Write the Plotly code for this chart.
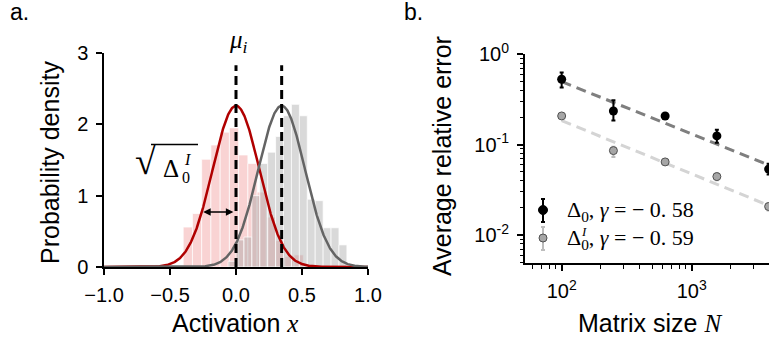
import numpy as np
import plotly.graph_objects as go

# ---------------- Panel a data ----------------
pink_edges = [-0.68, -0.61, -0.54, -0.47, -0.40, -0.33, -0.26, -0.19, -0.12,
              -0.05, 0.02, 0.09, 0.16, 0.23, 0.30, 0.37, 0.44, 0.51]
pink_heights = [0.02, 0.03, 0.02, 0.02, 0.56, 0.75, 1.51, 1.71, 1.89,
                1.95, 1.57, 1.45, 1.05, 0.70, 0.37, 0.15, 0.17]
gray_edges = [-0.06, 0.0, 0.06, 0.12, 0.18, 0.24, 0.30, 0.36, 0.42, 0.48,
              0.54, 0.60, 0.66, 0.72, 0.78, 0.84]
gray_heights = [0.08, 0.38, 0.42, 1.00, 1.45, 1.61, 1.83, 2.12, 2.28, 2.12,
                0.95, 0.93, 0.55, 0.55, 0.31]
mu_inh = 0.0          # red Gaussian mean
mu_full = 0.346       # gray Gaussian mean
sigma = 0.1765        # common std
arrow_y = 0.77
arrow_left = -0.26
dash_top = 2.83

x_ticks_a = [-1.0, -0.5, 0.0, 0.5, 1.0]
x_ticktext_a = ["\u22121.0", "\u22120.5", "0.0", "0.5", "1.0"]
y_ticks_a = [0, 1, 2, 3]

# ---------------- Panel b data ----------------
N = [100, 250, 625, 1562, 3906]
d0 = [0.53, 0.236, 0.208, 0.125, 0.0537]
d0_up = [0.10, 0.074, 0.015, 0.021, 0.008]
d0_dn = [0.10, 0.051, 0.013, 0.020, 0.007]
d0I = [0.208, 0.086, 0.0645, 0.0444, 0.0207]
d0I_up = [0.008, 0.009, 0.004, 0.004, 0.002]
d0I_dn = [0.008, 0.013, 0.004, 0.004, 0.002]
gamma_d0, amp_d0 = -0.58, 7.22
gamma_d0I, amp_d0I = -0.59, 2.80
N_fit = [100, 10000]

x_ticks_b = [100, 1000, 10000]
x_ticktext_b = ["10<sup>2</sup>", "10<sup>3</sup>", "10<sup>4</sup>"]
y_ticks_b = [0.01, 0.1, 1]
y_ticktext_b = ["10<sup>-2</sup>", "10<sup>-1</sup>", "10<sup>0</sup>"]

W, H = 769, 343
def px(x):
    return x / W
def py(y):
    return 1 - y / H

SANS = "Liberation Sans, Arial, sans-serif"
SERIF = "Liberation Serif, Times New Roman, serif"
MATH = "<span style='font-family:Liberation Serif'><i>{}</i></span>"

fig = go.Figure()

# Histograms
pe = np.array(pink_edges); ge = np.array(gray_edges)
fig.add_trace(go.Bar(x=(pe[:-1] + pe[1:]) / 2, y=pink_heights, width=np.diff(pe),
                     marker=dict(color="rgba(235,110,110,0.30)",
                                 line=dict(color="rgba(255,255,255,0.7)", width=1)),
                     xaxis="x", yaxis="y", showlegend=False))
fig.add_trace(go.Bar(x=(ge[:-1] + ge[1:]) / 2, y=gray_heights, width=np.diff(ge),
                     marker=dict(color="rgba(160,160,160,0.40)",
                                 line=dict(color="rgba(255,255,255,0.7)", width=1)),
                     xaxis="x", yaxis="y", showlegend=False))

xs = np.linspace(-1, 1, 601)
def gauss(x, m, s):
    return np.exp(-0.5 * ((x - m) / s) ** 2) / (s * np.sqrt(2 * np.pi))
fig.add_trace(go.Scatter(x=xs, y=gauss(xs, mu_inh, sigma), mode="lines",
                         line=dict(color="#b00000", width=2.5), showlegend=False,
                         xaxis="x", yaxis="y"))
fig.add_trace(go.Scatter(x=xs, y=gauss(xs, mu_full, sigma), mode="lines",
                         line=dict(color="#646464", width=2.5), showlegend=False,
                         xaxis="x", yaxis="y"))
for m in (mu_inh, mu_full):
    fig.add_trace(go.Scatter(x=[m, m], y=[0, dash_top], mode="lines",
                             line=dict(color="black", width=3, dash="9px,5px"),
                             showlegend=False, xaxis="x", yaxis="y"))

# Panel b fits
Nf = np.array(N_fit, dtype=float)
fig.add_trace(go.Scatter(x=Nf, y=amp_d0 * Nf ** gamma_d0, mode="lines",
                         line=dict(color="#7f7f7f", width=3, dash="10px,6px"),
                         showlegend=False, xaxis="x2", yaxis="y2"))
fig.add_trace(go.Scatter(x=Nf, y=amp_d0I * Nf ** gamma_d0I, mode="lines",
                         line=dict(color="#d4d4d4", width=3, dash="10px,6px"),
                         showlegend=False, xaxis="x2", yaxis="y2"))
fig.add_trace(go.Scatter(x=N, y=d0I, mode="markers",
                         marker=dict(color="#a6a6a6", size=8,
                                     line=dict(color="#505050", width=1)),
                         error_y=dict(type="data", array=d0I_up, arrayminus=d0I_dn,
                                      color="#bdbdbd", thickness=2, width=2),
                         showlegend=False, xaxis="x2", yaxis="y2"))
fig.add_trace(go.Scatter(x=N, y=d0, mode="markers",
                         marker=dict(color="black", size=9),
                         error_y=dict(type="data", array=d0_up, arrayminus=d0_dn,
                                      color="black", thickness=2, width=2),
                         showlegend=False, xaxis="x2", yaxis="y2"))

axis_common = dict(showgrid=False, zeroline=False, showline=True, linecolor="black",
                   ticks="outside", tickcolor="black", ticklen=6, tickwidth=1.5,
                   automargin=False,
                   tickfont=dict(family=SANS, size=20, color="black"))

fig.update_layout(
    template="none",
    width=W, height=H, margin=dict(l=0, r=0, t=0, b=0, pad=0, autoexpand=False),
    paper_bgcolor="white", plot_bgcolor="white", barmode="overlay", showlegend=False,
    xaxis=dict(domain=[px(104), px(368)], range=[-1, 1], tickvals=x_ticks_a,
               ticktext=x_ticktext_a, anchor="y", linewidth=1.5,
               ticklabelstandoff=3, **axis_common),
    yaxis=dict(domain=[py(267), py(53)], range=[0, 3], tickvals=y_ticks_a,
               anchor="x", linewidth=1.5, ticklabelstandoff=4, **axis_common),
    xaxis2=dict(type="log", domain=[px(525), 1.0], range=[1.718, 3.5946],
                tickvals=x_ticks_b, ticktext=x_ticktext_b, anchor="y2",
                linewidth=2, ticklabelstandoff=3,
                minor=dict(ticks="outside", ticklen=3.5, tickwidth=1.2, tickcolor="black",
                           tickvals=[60, 70, 80, 90, 200, 300, 400, 500, 600, 700,
                                     800, 900, 2000, 3000, 4000, 5000]),
                **axis_common),
    yaxis2=dict(type="log", domain=[py(263.3), py(54.3)], range=[-2.312, 0],
                tickvals=y_ticks_b, ticktext=y_ticktext_b, anchor="x2",
                linewidth=2, ticklabelstandoff=4,
                minor=dict(ticks="outside", ticklen=3.5, tickwidth=1.2, tickcolor="black",
                           tickvals=[0.005, 0.006, 0.007, 0.008, 0.009,
                                     0.02, 0.03, 0.04, 0.05, 0.06, 0.07, 0.08, 0.09,
                                     0.2, 0.3, 0.4, 0.5, 0.6, 0.7, 0.8, 0.9]),
                **axis_common),
)

ann = []
def text(x, y, t, size, family=SANS, angle=0, xanchor="center", yanchor="middle"):
    ann.append(dict(x=px(x), y=py(y), xref="paper", yref="paper", text=t,
                    showarrow=False, textangle=angle, xanchor=xanchor,
                    yanchor=yanchor, font=dict(family=family, size=size, color="black")))

# panel labels
text(19, 12, "a.", 23)
text(414, 12, "b.", 23)
# axis titles
text(50, 163, "Probability density", 25, angle=-90)
text(235, 323, "Activation " + MATH.format("x"), 25)
text(442, 156, "Average relative error", 25, angle=-90)
text(650, 323, "Matrix size " + MATH.format("N"), 25)
# mu_i
text(238, 41, "<i>\u03bc<sub>i</sub></i>", 25, family=SERIF)
# sqrt(Delta_0^I)
text(145, 161, "\u221a", 38, family=SERIF)
text(171, 168, "\u0394", 25, family=SERIF)
text(186, 177, "0", 16, family=SERIF)
text(187, 159, "<i>I</i>", 16, family=SERIF)
# legend text
text(565, 211, "\u0394<sub>0</sub>, <i>\u03b3</i> = \u2212 0. 58", 22, family=SERIF, xanchor="left")
text(565, 239, "\u0394<sub>0</sub>, <i>\u03b3</i> = \u2212 0. 59", 22, family=SERIF, xanchor="left")
text(584, 231, "<i>I</i>", 13, family=SERIF)

# arrow for sqrt(Delta)
ann.append(dict(x=mu_inh - 0.02, y=arrow_y, ax=arrow_left, ay=arrow_y, xref="x", yref="y",
                axref="x", ayref="y", showarrow=True, arrowside="end+start",
                arrowhead=2, arrowsize=1, arrowwidth=1.5, arrowcolor="black", text=""))
fig.update_layout(annotations=ann)

shapes = []
# overline of sqrt
shapes.append(dict(type="line", xref="paper", yref="paper", x0=px(151), x1=px(198),
                   y0=py(144.5), y1=py(144.5), line=dict(color="black", width=1.5)))
# legend glyphs
def glyph(cx, cy, r, fill, edge, ebar_color, top, bot):
    shapes.append(dict(type="line", xref="paper", yref="paper", x0=px(cx), x1=px(cx),
                       y0=py(top), y1=py(bot), line=dict(color=ebar_color, width=2)))
    for yy in (top, bot):
        shapes.append(dict(type="line", xref="paper", yref="paper", x0=px(cx - 2),
                           x1=px(cx + 2), y0=py(yy), y1=py(yy),
                           line=dict(color=ebar_color, width=2)))
    shapes.append(dict(type="circle", xref="paper", yref="paper", x0=px(cx - r),
                       x1=px(cx + r), y0=py(cy + r), y1=py(cy - r), fillcolor=fill,
                       line=dict(color=edge, width=1)))
glyph(543, 210, 4.5, "black", "black", "black", 199, 222)
glyph(543, 238, 4, "#a6a6a6", "#505050", "#bdbdbd", 227, 250)
fig.update_layout(shapes=shapes)

fig.write_html("out.html")
